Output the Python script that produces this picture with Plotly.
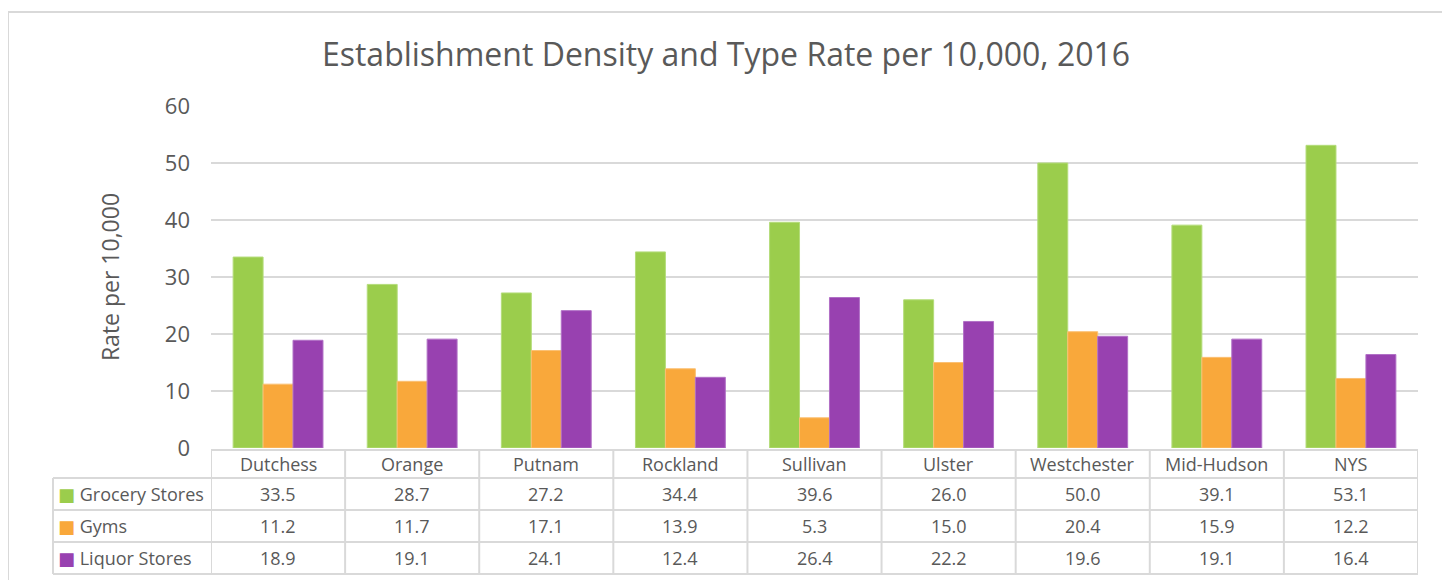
import plotly.graph_objects as go

categories = ["Dutchess", "Orange", "Putnam", "Rockland", "Sullivan", "Ulster", "Westchester", "Mid-Hudson", "NYS"]
series_names = ["Grocery Stores", "Gyms", "Liquor Stores"]
grocery = [33.5, 28.7, 27.2, 34.4, 39.6, 26.0, 50.0, 39.1, 53.1]
gyms = [11.2, 11.7, 17.1, 13.9, 5.3, 15.0, 20.4, 15.9, 12.2]
liquor = [18.9, 19.1, 24.1, 12.4, 26.4, 22.2, 19.6, 19.1, 16.4]
y_ticks = [0, 10, 20, 30, 40, 50, 60]

series_values = [grocery, gyms, liquor]
colors = ["#9BCD4C", "#F9A83B", "#9841B0"]
line_colors = ["#B4DC7A", "#FBC073", "#B170C6"]
FONT = "'Open Sans', Lato, sans-serif"
TXT = "#595959"
GRID = "#D9D9D9"

# page body has an 8px margin; figure is sized to fill the rest of the window
OFF = 8
W, H = 1442, 572
def px_x(p):
    return (p - OFF) / W
def px_y(p):
    return 1 - (p - OFF) / H

fig = go.Figure()
for name, vals, c, lc in zip(series_names, series_values, colors, line_colors):
    fig.add_trace(go.Bar(
        x=categories, y=vals, name=name,
        marker=dict(color=c, line=dict(color=lc, width=1)),
        showlegend=False, hoverinfo="x+y+name",
    ))

# ---- data table under the chart (drawn on the category axis) ----
TBL_LEFT, TBL_TOP = 53, 450
HDR_BOT = 478
ROW_H = 32
row_tops = [HDR_BOT + k * ROW_H for k in range(len(series_names))]
TBL_BOT = row_tops[-1] + ROW_H

shapes = []
# horizontal lines
shapes.append(dict(type="line", xref="x", yref="paper", x0=-0.5, x1=len(categories) - 0.5,
                   y0=px_y(TBL_TOP), y1=px_y(TBL_TOP), line=dict(color=GRID, width=2)))
for yy in row_tops + [TBL_BOT]:
    shapes.append(dict(type="line", xref="paper", yref="paper", x0=px_x(TBL_LEFT), x1=px_x(1418),
                       y0=px_y(yy), y1=px_y(yy), line=dict(color=GRID, width=2)))
# vertical lines at category boundaries
for i in range(len(categories) + 1):
    shapes.append(dict(type="line", xref="x", yref="paper", x0=i - 0.5, x1=i - 0.5,
                       y0=px_y(TBL_TOP), y1=px_y(TBL_BOT), line=dict(color=GRID, width=2)))
shapes.append(dict(type="line", xref="paper", yref="paper", x0=px_x(TBL_LEFT), x1=px_x(TBL_LEFT),
                   y0=px_y(HDR_BOT), y1=px_y(TBL_BOT), line=dict(color=GRID, width=2)))
# outer chart frame
shapes.append(dict(type="rect", xref="paper", yref="paper",
                   x0=px_x(8), x1=px_x(1446), y0=-0.05, y1=px_y(12),
                   line=dict(color=GRID, width=2), fillcolor="rgba(0,0,0,0)", layer="below"))

annotations = []
TFONT = dict(family=FONT, size=18, color=TXT)
for i, cat in enumerate(categories):
    annotations.append(dict(x=cat, xref="x", y=px_y((TBL_TOP + HDR_BOT) / 2), yref="paper",
                            text=cat, showarrow=False, xanchor="center", yanchor="middle", font=TFONT))
for k, (name, vals, c) in enumerate(zip(series_names, series_values, colors)):
    yc = px_y(row_tops[k] + ROW_H / 2)
    annotations.append(dict(x=px_x(TBL_LEFT + 3), xref="paper", y=yc, yref="paper",
                            text=f"<span style='color:{c};font-family:DejaVu Sans'>■</span> {name}",
                            showarrow=False, xanchor="left", yanchor="middle", font=TFONT))
    for i, cat in enumerate(categories):
        annotations.append(dict(x=cat, xref="x", y=yc, yref="paper",
                                text=f"{vals[i]:.1f}", showarrow=False,
                                xanchor="center", yanchor="middle", font=TFONT))

fig.update_layout(
    width=W, height=H,
    margin=dict(l=0, r=0, t=0, b=0, pad=0, autoexpand=False),
    paper_bgcolor="white", plot_bgcolor="white",
    barmode="group", bargap=0.33, bargroupgap=0,
    title=dict(
        text="Establishment Density and Type Rate per 10,000, 2016",
        x=px_x(726), xanchor="center", y=px_y(55), yanchor="middle",
        font=dict(family=FONT, size=32, color=TXT),
    ),
    xaxis=dict(
        domain=[px_x(211), px_x(1418)],
        range=[-0.5, len(categories) - 0.5],
        showticklabels=False, showgrid=False, zeroline=False, showline=False,
        ticks="", automargin=False,
    ),
    yaxis=dict(
        domain=[px_y(448), px_y(106)],
        range=[0, 60], tickvals=y_ticks,
        showgrid=True, gridcolor=GRID, gridwidth=1.5,
        zeroline=False, showline=False, automargin=False,
        tickfont=dict(family=FONT, size=22, color=TXT),
        ticklabelstandoff=20,
        title=dict(text="Rate per 10,000", font=dict(family=FONT, size=23, color=TXT), standoff=38),
    ),
    shapes=shapes,
    annotations=annotations,
)

fig.write_html("out.html")
